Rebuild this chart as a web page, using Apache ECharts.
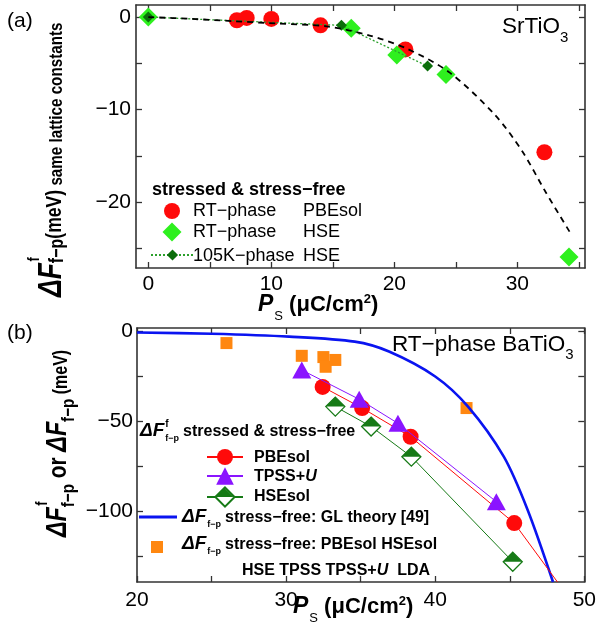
<!DOCTYPE html>
<html>
<head>
<meta charset="utf-8">
<script src="https://cdn.jsdelivr.net/npm/echarts@6/dist/echarts.min.js"></script>
<style>
  html, body { margin: 0; padding: 0; background: #fff; }
  #chart { width: 599px; height: 637px; }
</style>
</head>
<body>
<div id="chart"></div>
<script>
// ---------- (a) SrTiO3 ----------
const srRtPbesolX = [7.2, 8.0, 10.0, 14.0, 20.9, 32.2];
const srRtPbesolY = [-0.35, -0.1, -0.2, -0.9, -3.5, -14.6];
const srRtHseX = [0, 16.5, 20.2, 24.2, 34.2];
const srRtHseY = [0, -1.2, -4.1, -6.2, -25.9];
const sr105kHseX = [0, 15.7, 22.7];
const sr105kHseY = [0, -0.9, -5.3];
// dashed guide curve through the SrTiO3 points
const srFitX = [0, 3.5, 7, 10.5, 14.5, 18, 21, 24.5, 28.2, 30.4, 32.3, 34.3];
const srFitY = [0, -0.2, -0.45, -0.7, -1.0, -2.0, -3.4, -6.0, -10.6, -14.5, -18.9, -23.3];

// ---------- (b) RT-phase BaTiO3 ----------
const btPbesolX = [32.45, 35.1, 38.35, 45.3];
const btPbesolY = [-30.8, -42.6, -58.6, -106.7];
const btPbesolLineEnd = [48.2, -139.5];   // line leaves the frame here
const btTpssUX = [31.05, 34.9, 37.5, 44.1];
const btTpssUY = [-21.4, -37.7, -51.1, -94.8];
const btHsesolX = [33.3, 35.7, 38.4, 45.2];
const btHsesolY = [-41.8, -52.9, -69.7, -128.2];
const btGlX = [20, 25, 30.2, 34.6, 36.9, 40, 42.2, 44.6, 46.2, 47.9];
const btGlY = [-0.5, -1.2, -2.8, -5.6, -11.1, -25, -41.8, -69.7, -99.4, -139.5];
const btFreeX = [26.0, 31.05, 32.5, 32.65, 33.3, 42.1];
const btFreeY = [-6.4, -13.5, -14.2, -19.6, -15.8, -42.6];

// ---------- axes ticks ----------
const aTickX = [0, 5, 10, 15, 20, 25, 30, 35];
const aLabelX = [0, 10, 20, 30];
const aTickY = [-25, -20, -15, -10, -5, 0];
const aLabelY = [-20, -10, 0];
const bTickX = [20, 25, 30, 35, 40, 45, 50];
const bLabelX = [20, 30, 40, 50];
const bTickY = [-125, -100, -75, -50, -25, 0];
const bLabelY = [-100, -50, 0];

const FONT = '"Liberation Sans", Arial, sans-serif';
const AX = '#333';
const RED = '#ff0a0a';
const LIME = '#2ef01e';
const DKGREEN = '#0b6e0b';
const DOTGREEN = '#2ca02c';
const PURPLE = '#8a14ff';
const HGREEN = '#167a16';
const BLUE = '#0a14f0';
const ORANGE = '#ff8710';

const zip = (xs, ys) => xs.map((x, i) => [x, ys[i]]);
const fmtTick = v => (v < 0 ? '\u2212' + Math.abs(v) : String(v));

function makeAxis(isX, grid, pos, min, max, ticks, labels, margin) {
  return {
    type: 'value', gridIndex: grid, position: pos, min: min, max: max,
    axisLine: { show: true, onZero: false, lineStyle: { color: AX, width: 1.6 } },
    axisTick: { show: true, inside: true, length: 6, customValues: ticks, lineStyle: { color: AX, width: 1.3 } },
    axisLabel: labels
      ? { show: true, customValues: labels, fontFamily: FONT, fontSize: 21, color: '#000', margin: margin, formatter: fmtTick }
      : { show: false },
    splitLine: { show: false },
    minorTick: { show: false }
  };
}

// text runs with sub/superscripts laid out piece by piece
const mctx = document.createElement('canvas').getContext('2d');
function run(x, y, pieces, opt) {
  opt = opt || {};
  let cx = 0;
  const kids = [];
  pieces.forEach(p => {
    const weight = p.bold ? 'bold' : 'normal';
    const fstyle = p.italic ? 'italic' : 'normal';
    mctx.font = fstyle + ' ' + weight + ' ' + p.size + 'px ' + FONT;
    const w = mctx.measureText(p.t).width;
    kids.push({
      type: 'text', x: cx + (p.dx || 0), y: (p.dy || 0) - 0.35 * p.size,
      style: { text: p.t, fontSize: p.size, fontWeight: weight, fontStyle: fstyle, fontFamily: FONT,
               fill: p.color || '#000', align: 'left', verticalAlign: 'middle' }
    });
    if (!p.stack) cx += w + (p.dx || 0);
  });
  return { type: 'group', x: x, y: y, rotation: opt.rotation || 0,
           scaleX: opt.scaleX || 1, scaleY: 1, silent: true, children: kids };
}

function iconLegend(item, left, top, w, h, extra) {
  return Object.assign({
    data: [item], left: left, top: top, itemWidth: w, itemHeight: h, padding: 0,
    selectedMode: false, formatter: () => '', textStyle: { fontSize: 1 }
  }, extra || {});
}

const B = true;
const graphics = [
  run(7, 29, [{ t: '(a)', size: 21 }]),
  run(7, 341, [{ t: '(b)', size: 21 }]),
  run(502, 35, [{ t: 'SrTiO', size: 22.5 }, { t: '3', size: 15, dy: 8 }]),
  run(392, 353, [{ t: 'RT\u2212phase BaTiO', size: 22.5 }, { t: '3', size: 15, dy: 7 }]),
  // x axis titles
  run(258, 313, [{ t: 'P', size: 23, bold: B, italic: B }, { t: 'S', size: 13, dy: 8, dx: 1 },
                 { t: ' (\u03bcC/cm', size: 22, bold: B }, { t: '2', size: 13, bold: B, dy: -9 }, { t: ')', size: 22, bold: B }]),
  run(293, 615, [{ t: 'P', size: 23, bold: B, italic: B }, { t: 'S', size: 13, dy: 8, dx: 1 },
                 { t: ' (\u03bcC/cm', size: 22, bold: B }, { t: '2', size: 13, bold: B, dy: -9 }, { t: ')', size: 22, bold: B }]),
  // y axis titles
  run(63, 297, [{ t: '\u0394F', size: 33, bold: B, italic: B },
                { t: 'f', size: 16, bold: B, dy: -23, dx: 2, stack: true },
                { t: 'f\u2212p', size: 20, bold: B, dy: 1 },
                { t: '(meV)', size: 22, bold: B },
                { t: ' same lattice constants', size: 19, bold: B }], { rotation: Math.PI / 2, scaleX: 0.8 }),
  run(68, 537, [{ t: '\u0394F', size: 29, bold: B, italic: B },
                { t: 'f', size: 16, bold: B, dy: -20, dx: 2, stack: true },
                { t: 'f\u2212p', size: 19, bold: B, dy: 7 },
                { t: ' or ', size: 26, bold: B },
                { t: '\u0394F', size: 29, bold: B, italic: B },
                { t: 'f\u2212p', size: 19, bold: B, dy: 7 },
                { t: ' (meV)', size: 20, bold: B }], { rotation: Math.PI / 2, scaleX: 0.8 }),
  // legend texts (a)
  run(152, 196, [{ t: 'stressed & stress\u2212free', size: 18, bold: B }]),
  run(193, 217, [{ t: 'RT\u2212phase', size: 18 }]),
  run(303, 217, [{ t: 'PBEsol', size: 18 }]),
  run(193, 238.5, [{ t: 'RT\u2212phase', size: 18 }]),
  run(303, 238.5, [{ t: 'HSE', size: 18 }]),
  run(193, 262, [{ t: '105K\u2212phase', size: 18 }]),
  run(303, 262, [{ t: 'HSE', size: 18 }]),
  // legend texts (b)
  run(140, 437, [{ t: '\u0394F', size: 19, bold: B, italic: B },
                 { t: 'f', size: 10, bold: B, dy: -9, dx: 1, stack: true },
                 { t: 'f\u2212p', size: 9, bold: B, dy: 5, dx: 1 },
                 { t: 'stressed & stress\u2212free', size: 16, bold: B, dx: 4 }]),
  run(254, 463, [{ t: 'PBEsol', size: 16, bold: B }]),
  run(254, 482, [{ t: 'TPSS+', size: 16, bold: B }, { t: 'U', size: 16, bold: B, italic: B }]),
  run(254, 502, [{ t: 'HSEsol', size: 16, bold: B }]),
  run(182, 523, [{ t: '\u0394F', size: 19, bold: B, italic: B },
                 { t: 'f\u2212p', size: 9, bold: B, dy: 5, dx: 1 },
                 { t: 'stress\u2212free: GL theory [49]', size: 16, bold: B, dx: 4 }]),
  run(182, 550, [{ t: '\u0394F', size: 19, bold: B, italic: B },
                 { t: 'f\u2212p', size: 9, bold: B, dy: 5, dx: 1 },
                 { t: 'stress\u2212free: PBEsol HSEsol', size: 16, bold: B, dx: 4 }]),
  run(242, 576, [{ t: 'HSE TPSS TPSS+', size: 16, bold: B }, { t: 'U', size: 16, bold: B, italic: B },
                 { t: '  LDA', size: 16, bold: B }])
];

const option = {
  animation: false,
  backgroundColor: '#fff',
  grid: [
    { left: 136, right: 14, top: 5, bottom: 369 },
    { left: 137, right: 12, top: 328, bottom: 55 }
  ],
  xAxis: [
    makeAxis(true, 0, 'bottom', -1, 35.5, aTickX, aLabelX, 6),
    makeAxis(true, 0, 'top', -1, 35.5, aTickX, null),
    makeAxis(true, 1, 'bottom', 20, 50, bTickX, bLabelX, 8),
    makeAxis(true, 1, 'top', 20, 50, bTickX, null)
  ],
  yAxis: [
    makeAxis(false, 0, 'left', -27.1, 1.3, aTickY, aLabelY, 5),
    makeAxis(false, 0, 'right', -27.1, 1.3, aTickY, null),
    makeAxis(false, 1, 'left', -139.5, 2, bTickY, bLabelY, 4),
    makeAxis(false, 1, 'right', -139.5, 2, bTickY, null)
  ],
  legend: [
    iconLegend('RT-phase PBEsol', 164, 203, 16, 16),
    iconLegend('RT-phase HSE', 162.5, 222.5, 19, 19),
    iconLegend('105K-phase HSE', 150, 248, 43, 14),
    iconLegend('PBEsol', 206, 447, 36, 20),
    iconLegend('TPSS+U', 206, 465, 36, 22),
    iconLegend('HSEsol', 206, 485, 36, 24),
    iconLegend({ name: 'HSEsol filled half', icon: 'triangle' }, 214.4, 487.4, 19.2, 9.6, { symbolKeepAspect: false }),
    iconLegend({ name: 'GL theory [49]', icon: 'rect' }, 139, 515.5, 38, 3, { symbolKeepAspect: false, itemStyle: { color: BLUE } }),
    iconLegend({ name: 'stress-free DFT', icon: 'rect' }, 151, 541, 12, 12)
  ],
  series: [
    // (a)
    { name: 'RT-phase PBEsol', type: 'scatter', xAxisIndex: 0, yAxisIndex: 0,
      data: zip(srRtPbesolX, srRtPbesolY), symbol: 'circle', symbolSize: 16,
      itemStyle: { color: RED, opacity: 1 }, z: 2 },
    { name: 'RT-phase HSE', type: 'scatter', xAxisIndex: 0, yAxisIndex: 0,
      data: zip(srRtHseX, srRtHseY), symbol: 'diamond', symbolSize: 19,
      itemStyle: { color: LIME, opacity: 1 }, z: 3 },
    { name: '105K-phase HSE', type: 'line', xAxisIndex: 0, yAxisIndex: 0,
      data: zip(sr105kHseX, sr105kHseY), symbol: 'diamond', symbolSize: 11, showSymbol: true,
      lineStyle: { color: DOTGREEN, width: 1.3, type: [2, 2] }, itemStyle: { color: DKGREEN, opacity: 1 }, z: 4 },
    { name: 'SrTiO3 guide', type: 'line', xAxisIndex: 0, yAxisIndex: 0,
      data: zip(srFitX, srFitY), smooth: 0.3, symbol: 'none',
      lineStyle: { color: '#000', width: 1.8, type: [6, 5] }, z: 5 },
    // (b)
    { name: 'stress-free DFT', type: 'scatter', xAxisIndex: 2, yAxisIndex: 2,
      data: zip(btFreeX, btFreeY), symbol: 'rect', symbolSize: 12,
      itemStyle: { color: ORANGE, opacity: 1 }, z: 2 },
    { name: 'GL theory [49]', type: 'line', xAxisIndex: 2, yAxisIndex: 2,
      data: zip(btGlX, btGlY), smooth: 0.3, symbol: 'none',
      lineStyle: { color: BLUE, width: 2.6 }, itemStyle: { color: BLUE }, z: 3 },
    { name: 'HSEsol', type: 'line', xAxisIndex: 2, yAxisIndex: 2,
      data: zip(btHsesolX, btHsesolY), symbol: 'diamond', symbolSize: 19, showSymbol: true,
      lineStyle: { color: HGREEN, width: 1 },
      itemStyle: { color: '#fff', borderColor: HGREEN, borderWidth: 1.3, opacity: 1 }, z: 4 },
    { name: 'HSEsol filled half', type: 'scatter', xAxisIndex: 2, yAxisIndex: 2,
      data: zip(btHsesolX, btHsesolY), symbol: 'triangle', symbolSize: [19, 9.5],
      symbolOffset: [0, '-50%'], itemStyle: { color: HGREEN, opacity: 1 }, z: 5 },
    { name: 'PBEsol', type: 'line', xAxisIndex: 2, yAxisIndex: 2,
      data: zip(btPbesolX, btPbesolY).concat([{ value: btPbesolLineEnd, symbol: 'none' }]),
      symbol: 'circle', symbolSize: 16, showSymbol: true,
      lineStyle: { color: RED, width: 1 }, itemStyle: { color: RED, opacity: 1 }, z: 6 },
    { name: 'TPSS+U', type: 'line', xAxisIndex: 2, yAxisIndex: 2,
      data: zip(btTpssUX, btTpssUY), symbol: 'triangle', symbolSize: [19, 17], showSymbol: true,
      lineStyle: { color: PURPLE, width: 1 }, itemStyle: { color: PURPLE, opacity: 1 }, z: 7 }
  ],
  graphic: { elements: graphics }
};

const chart = echarts.init(document.getElementById('chart'), null, { renderer: 'canvas' });
chart.setOption(option);
</script>
</body>
</html>
